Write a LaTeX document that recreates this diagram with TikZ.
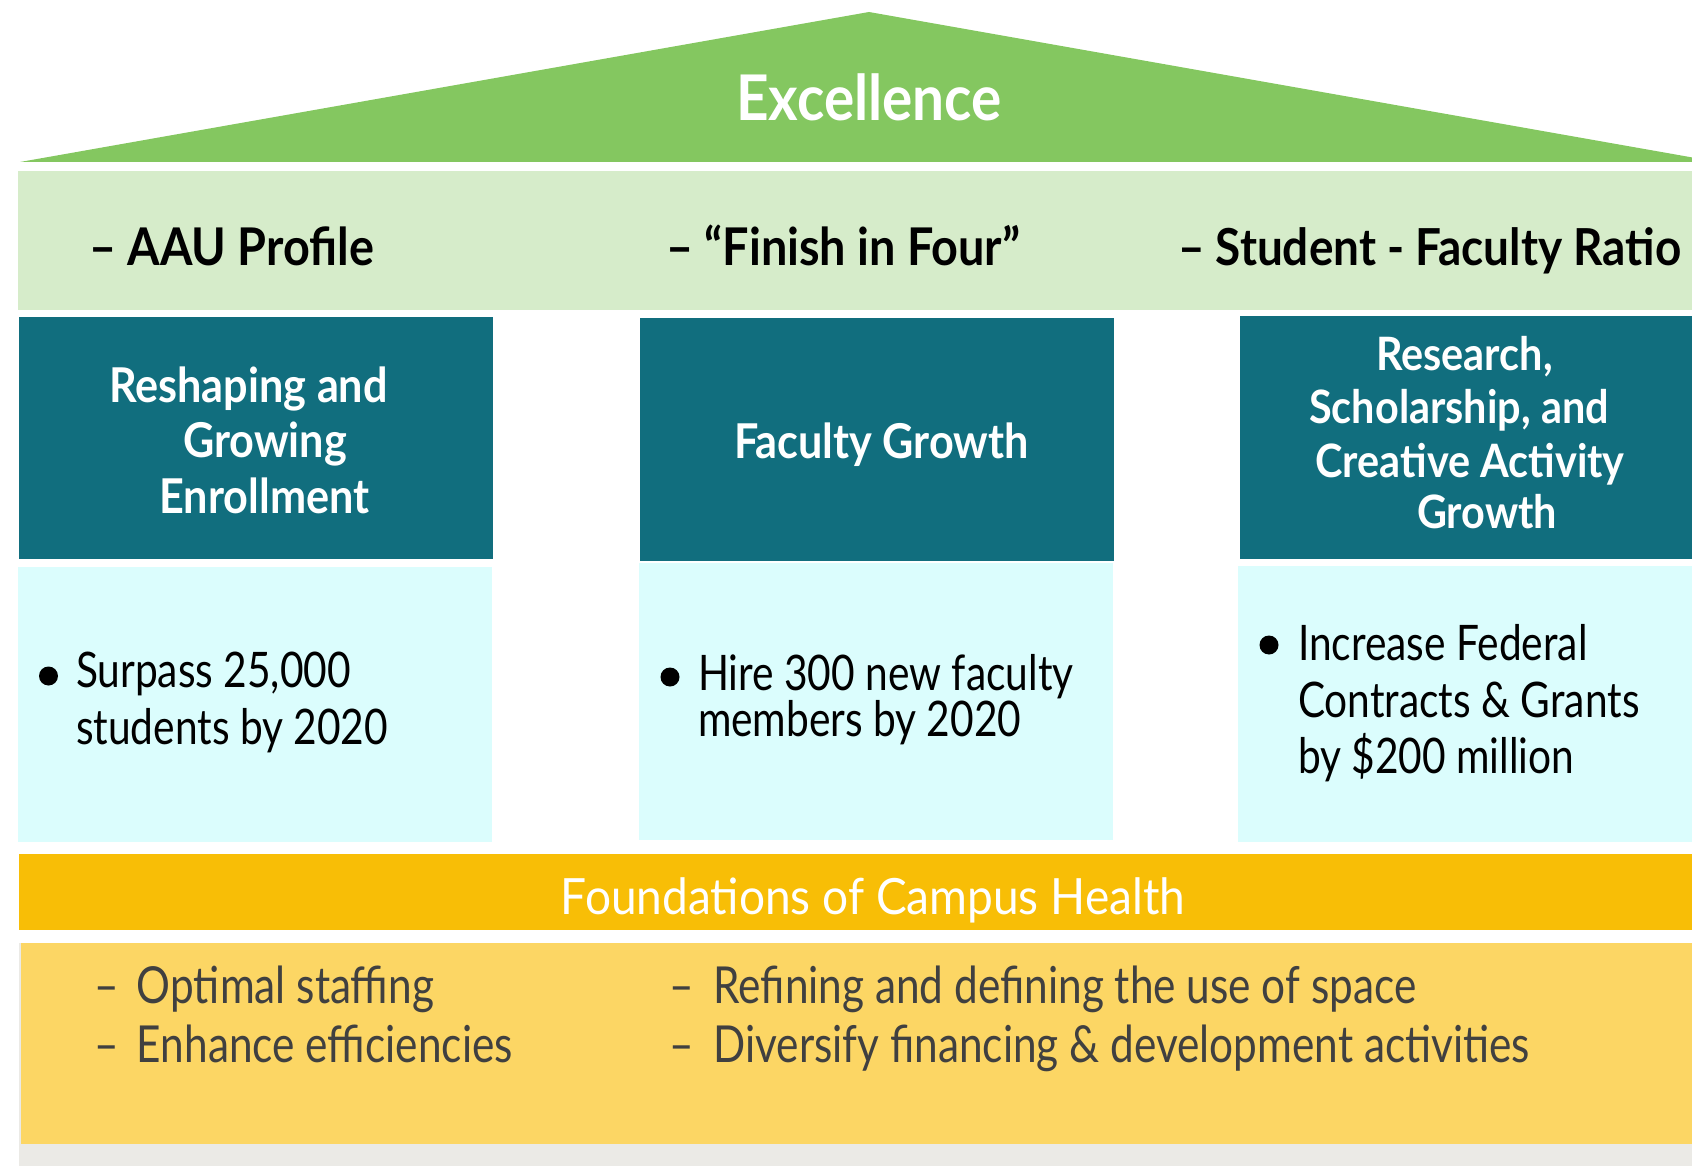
\documentclass[tikz,border=0pt]{standalone}
\usepackage{fontspec}
\setmainfont{Lato}[FakeStretch=0.83, BoldFeatures={FakeStretch=0.9}]
\newfontfamily\foundfont{Lato}[FakeStretch=0.92]
\definecolor{roofgreen}{HTML}{84C760}
\definecolor{bandgreen}{HTML}{D6ECCA}
\definecolor{teal}{HTML}{116E7E}
\definecolor{cyanlight}{HTML}{DBFDFD}
\definecolor{orangebar}{HTML}{F8BE06}
\definecolor{yellowbox}{HTML}{FCD664}
\definecolor{graystrip}{HTML}{EBEAE6}
\definecolor{darktext}{HTML}{404040}
\tikzset{
  box/.style={anchor=north west, inner sep=0pt, outer sep=0pt, draw=none},
  txt/.style={inner sep=0pt, outer sep=0pt, anchor=base west},
  ctxt/.style={inner sep=0pt, outer sep=0pt, anchor=base},
  headfont/.style={font=\bfseries\fontsize{52}{58}\selectfont, text=black},
  pillarfont/.style={font=\bfseries\fontsize{48}{56}\selectfont, text=white},
  pillarfontb/.style={font=\bfseries\fontsize{46}{53}\selectfont, text=white},
  bodyfont/.style={font=\fontsize{49}{56}\selectfont, text=black},
  footfont/.style={font=\fontsize{51}{59}\selectfont, text=darktext},
  bulletdot/.style={circle, fill=black, inner sep=0pt, minimum size=19pt}
}
\begin{document}
\begin{tikzpicture}[x=1pt,y=-1pt]
\useasboundingbox (0,0) rectangle (1692,1166);
\clip (0,0) rectangle (1692,1166);
% roof
\fill[roofgreen] (20,162) -- (869,12) -- (1718,162) -- cycle;
\node[ctxt, text=white, font=\bfseries\fontsize{63}{70}\selectfont] (exc) at (869,121) {Excellence};
% band
\node[box, fill=bandgreen, minimum width=1680pt, minimum height=139pt] (band) at (18,171) {};
\node[txt, headfont] (h1) at (89,266) {– AAU Profile};
\node[txt, headfont] (h2) at (666,266) {– “Finish in Four”};
\node[txt, headfont, font=\bfseries\fontsize{51}{58}\selectfont] (h3) at (1178,266) {– Student - Faculty Ratio};
% teal boxes
\node[box, fill=teal, minimum width=474pt, minimum height=242pt] (t1) at (19,317) {};
\node[box, fill=teal, minimum width=474pt, minimum height=243pt] (t2) at (640,318) {};
\node[box, fill=teal, minimum width=460pt, minimum height=243pt] (t3) at (1240,316) {};
\node[ctxt, pillarfont] (t1a) at (248.5,402.5) {Reshaping and};
\node[ctxt, pillarfont] (t1b) at (265,457) {Growing};
\node[ctxt, pillarfont] (t1c) at (264.5,513.5) {Enrollment};
\node[ctxt, pillarfont] (t2a) at (881.5,458.6) {Faculty Growth};
\node[ctxt, pillarfontb] (t3a) at (1464.5,370) {Research,};
\node[ctxt, pillarfontb] (t3b) at (1459,423) {Scholarship, and};
\node[ctxt, pillarfontb] (t3c) at (1470,477) {Creative Activity};
\node[ctxt, pillarfontb] (t3d) at (1487,528.6) {Growth};
% cyan boxes
\node[box, fill=cyanlight, minimum width=474pt, minimum height=275pt] (c1) at (18,567) {};
\node[box, fill=cyanlight, minimum width=474pt, minimum height=277pt] (c2) at (639,563) {};
\node[box, fill=cyanlight, minimum width=460pt, minimum height=276pt] (c3) at (1238,566) {};
\node[bulletdot] (b1) at (48.5,676) {};
\node[txt, bodyfont] (c1a) at (76,687.5) {Surpass 25,000};
\node[txt, bodyfont] (c1b) at (76,744.6) {students by 2020};
\node[bulletdot] (b2) at (670,677) {};
\node[txt, bodyfont, text depth=0pt] (c2a) at (698,690) {Hire 300 new faculty};
\node[txt, bodyfont] (c2b) at (698,736) {members by 2020};
\node[bulletdot] (b3) at (1269,645) {};
\node[txt, bodyfont] (c3a) at (1298,660) {Increase Federal};
\node[txt, bodyfont] (c3b) at (1298,717) {Contracts \& Grants};
\node[txt, bodyfont] (c3c) at (1298,773) {by \$200 million};
% foundations
\node[box, fill=orangebar, minimum width=1680pt, minimum height=76pt] (found) at (19,854) {};
\node[ctxt, text=white, font=\foundfont\fontsize{50}{56}\selectfont] (foundtxt) at (873,914) {Foundations of Campus Health};
\node[box, fill=graystrip, minimum width=1680pt, minimum height=223pt] (base) at (19,943) {};
\node[box, fill=yellowbox, minimum width=1680pt, minimum height=201pt] (ybox) at (21,943) {};
\node[txt, footfont] (f1) at (94,1003) {\makebox[43pt][l]{–}Optimal staffing};
\node[txt, footfont] (f2) at (94,1062) {\makebox[43pt][l]{–}Enhance efficiencies};
\node[txt, footfont] (f3) at (669,1003) {\makebox[44.5pt][l]{–}Refining and defining the use of space};
\node[txt, footfont] (f4) at (669,1062) {\makebox[44.5pt][l]{–}Diversify financing \& development activities};
\end{tikzpicture}
\end{document}
